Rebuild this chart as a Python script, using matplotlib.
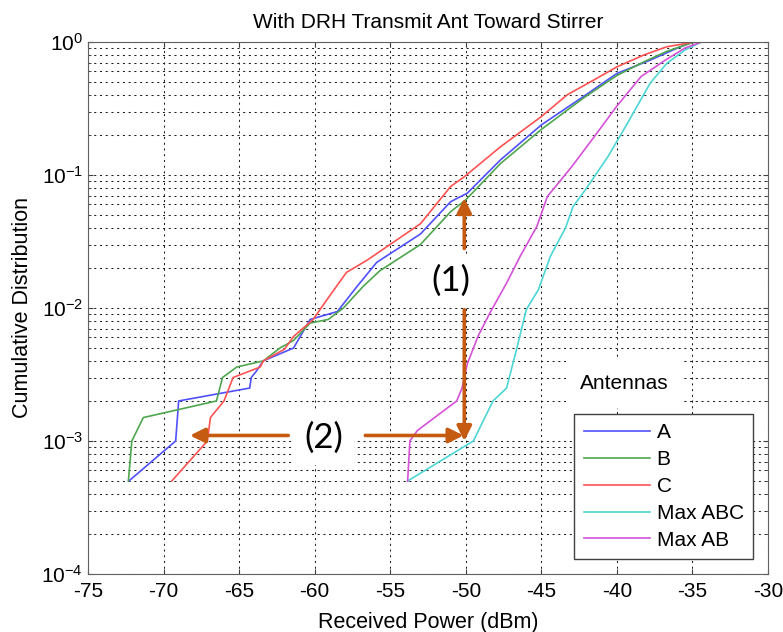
import numpy as np
import matplotlib
matplotlib.use("Agg")
import matplotlib.pyplot as plt
from matplotlib.ticker import LogLocator, NullFormatter

plt.rcParams['font.family'] = ['Liberation Sans', 'DejaVu Sans']
plt.rcParams['mathtext.default'] = 'regular'
plt.rcParams['axes.unicode_minus'] = False

# values (x in dBm, y cumulative probability)
a_x = [-72.3, -69.2, -69.0, -64.3, -64.2, -63.9, -63.4, -61.4, -60.3, -58.5, -57.2, -55.9,
       -53.0, -51.0, -49.9, -47.7, -45.0, -42.2, -40.0, -37.8, -36.0, -35.0, -30.0]
a_y = [5e-4, 1e-3, 2e-3, 2.5e-3, 3e-3, 3.3e-3, 4e-3, 5e-3, 8.2e-3, 9.4e-3, 1.45e-2, 2.2e-2,
       0.036, 0.063, 0.073, 0.13, 0.238, 0.39, 0.58, 0.73, 0.90, 1.0, 1.0]

b_x = [-72.33, -72.1, -71.34, -66.5, -66.1, -65.15, -63.4, -62.3, -61.4, -60.3, -59.1, -58.1,
       -56.8, -55.7, -53.0, -51.0, -50.0, -47.7, -45.0, -42.2, -40.0, -38.2, -36.7, -35.1,
       -34.8, -30.0]
b_y = [5e-4, 1e-3, 1.5e-3, 2e-3, 3e-3, 3.6e-3, 4e-3, 5e-3, 5.7e-3, 7.7e-3, 8.2e-3, 1.0e-2,
       1.45e-2, 1.9e-2, 0.030, 0.053, 0.065, 0.122, 0.22, 0.38, 0.56, 0.71, 0.85, 0.98,
       1.0, 1.0]

c_x = [-69.46, -67.1, -66.9, -66.0, -65.4, -63.6, -63.4, -62.0, -61.4, -60.1, -59.2, -57.9,
       -56.5, -53.0, -51.0, -50.1, -47.7, -45.0, -43.3, -41.5, -40.0, -38.2, -36.7, -35.1,
       -34.8, -30.0]
c_y = [5e-4, 1e-3, 1.5e-3, 2e-3, 3e-3, 3.6e-3, 4e-3, 4.9e-3, 6.1e-3, 8.2e-3, 1.15e-2, 1.85e-2,
       2.3e-2, 0.043, 0.082, 0.097, 0.163, 0.275, 0.40, 0.52, 0.65, 0.80, 0.92, 0.99,
       1.0, 1.0]

abc_x = [-53.85, -49.5, -48.2, -47.3, -46.6, -46.0, -45.2, -44.4, -43.4, -42.9, -42.1,
         -40.6, -39.3, -37.8, -36.7, -35.5, -34.4, -30.0]
abc_y = [5e-4, 1e-3, 2e-3, 2.5e-3, 5.1e-3, 9.7e-3, 0.0137, 0.0245, 0.040, 0.058, 0.077,
         0.137, 0.245, 0.49, 0.69, 0.87, 1.0, 1.0]

ab_x = [-53.85, -53.7, -53.2, -50.6, -50.25, -49.9, -49.2, -48.4, -47.3, -46.4, -45.3,
        -44.6, -43.0, -41.5, -40.0, -38.4, -36.8, -35.5, -34.4, -30.0]
ab_y = [5e-4, 1e-3, 1.2e-3, 2e-3, 2.5e-3, 3.8e-3, 6.1e-3, 9.2e-3, 0.0154, 0.0245, 0.041,
        0.069, 0.115, 0.194, 0.33, 0.55, 0.73, 0.90, 1.0, 1.0]

labels = ['A', 'B', 'C', 'Max ABC', 'Max AB']
colors = ['#5050ff', '#4ea64e', '#ff5252', '#4cd6d6', '#d452d8']
series = [(a_x, a_y), (b_x, b_y), (c_x, c_y), (abc_x, abc_y), (ab_x, ab_y)]

fig = plt.figure(figsize=(7.83, 6.32), dpi=100)
ax = fig.add_axes([0.1124, 0.0918, 0.8685, 0.8418])

for (xs, ys), lab, col in zip(series, labels, colors):
    ax.plot(xs, ys, color=col, lw=1.2, label=lab)

ax.set_yscale('log')
ax.set_xlim(-75, -30)
ax.set_ylim(1e-4, 1)
ax.set_xticks(np.arange(-75, -29, 5))
ax.yaxis.set_major_locator(LogLocator(base=10, numticks=10))
ax.yaxis.set_minor_locator(LogLocator(base=10, subs=np.arange(2, 10), numticks=20))
ax.yaxis.set_minor_formatter(NullFormatter())

dots = (0, (2, 3.5))
ax.grid(True, which='major', ls=dots, color='#202020', lw=0.75)
ax.grid(True, which='minor', axis='y', ls=dots, color='#202020', lw=0.75)
ax.tick_params(which='both', direction='in', top=True, right=True, labelsize=15,
               color='#404040')
ax.tick_params(axis='x', pad=6)
for s in ax.spines.values():
    s.set_color('#606060')

ax.set_title('With DRH Transmit Ant Toward Stirrer', fontsize=15, pad=10)
ax.set_xlabel('Received Power (dBm)', fontsize=15.5, labelpad=8)
ax.set_ylabel('Cumulative Distribution', fontsize=15.5, labelpad=6)

# orange annotation arrows
orange = '#c55a11'
ap = dict(arrowstyle='-|>', color=orange, lw=2.6, mutation_scale=22, shrinkA=0, shrinkB=0)
ax.annotate('', xy=(-50.1, 0.067), xytext=(-50.1, 0.028), arrowprops=ap)
ax.annotate('', xy=(-50.1, 1.0e-3), xytext=(-50.1, 0.0097), arrowprops=ap)
ax.annotate('', xy=(-68.25, 1.1e-3), xytext=(-61.75, 1.1e-3), arrowprops=ap)
ax.annotate('', xy=(-50.15, 1.1e-3), xytext=(-56.65, 1.1e-3), arrowprops=ap)
box = dict(boxstyle='square,pad=0.3', fc='white', ec='none')
ax.text(-51.0, 0.016, '(1)', fontsize=25, family='Lato', ha='center', va='center', bbox=box)
ax.text(-59.4, 1.05e-3, '(2)', fontsize=25, family='Lato', ha='center', va='center', bbox=box)

leg = ax.legend(loc='lower right', bbox_to_anchor=(0.978, 0.028), borderaxespad=0,
                fancybox=False, edgecolor='#404040', fontsize=15, handlelength=3.2,
                handletextpad=0.3, labelspacing=0.38, borderpad=0.45, framealpha=1)
leg.get_frame().set_linewidth(1.0)
ax.text(0.724, 0.358, 'Antennas', transform=ax.transAxes, fontsize=15, ha='left',
        va='center', bbox=dict(boxstyle='square,pad=0.7', fc='white', ec='none'))

fig.savefig('out.png', dpi=100)
